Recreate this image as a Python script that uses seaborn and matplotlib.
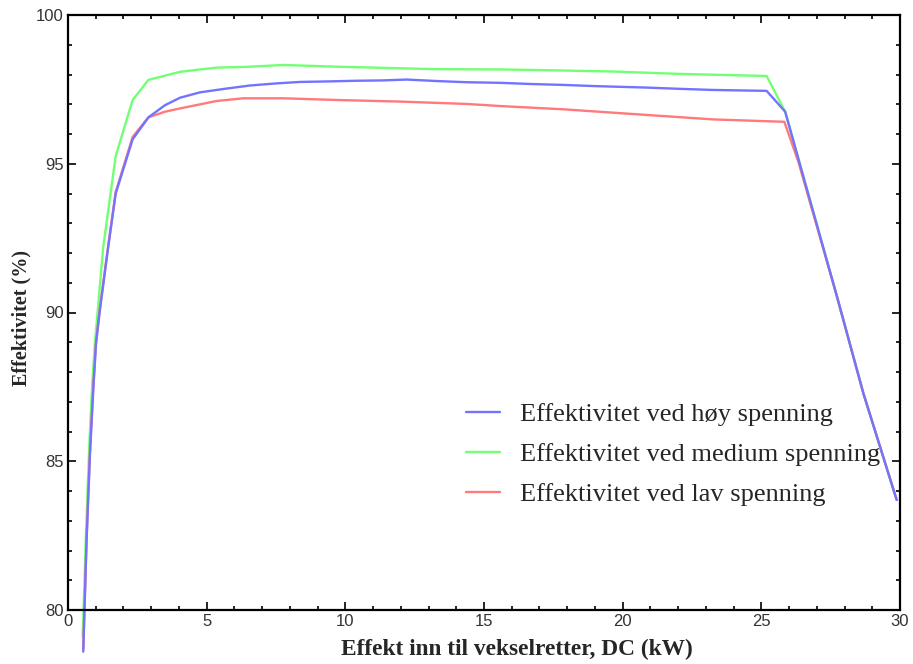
import matplotlib
matplotlib.use("Agg")
import matplotlib.pyplot as plt
import seaborn as sns
import pandas as pd
from matplotlib.ticker import MultipleLocator

# ---- data ----
x_high = [0.55, 0.67, 0.79, 0.91, 1.01, 1.15, 1.45, 1.72, 2.33, 2.90, 3.50, 4.04, 4.76,
          5.66, 6.56, 7.50, 8.37, 9.50, 10.41, 11.30, 12.21, 13.30, 14.38, 15.58, 16.70,
          17.86, 19.00, 20.87, 22.00, 23.27, 25.19, 25.86, 27.72, 28.68, 29.88]
y_high = [78.6, 82.35, 85.2, 87.4, 88.96, 90.08, 92.2, 94.0, 95.82, 96.56, 96.97, 97.22, 97.40,
          97.52, 97.63, 97.70, 97.75, 97.77, 97.79, 97.80, 97.83, 97.78, 97.74, 97.72, 97.68,
          97.65, 97.61, 97.56, 97.52, 97.48, 97.45, 96.75, 90.56, 87.28, 83.70]

x_medium = [0.53, 0.65, 0.77, 0.88, 0.97, 1.27, 1.72, 2.33, 2.90, 4.04, 4.76, 5.36, 6.50,
            7.76, 9.81, 11.50, 13.20, 15.58, 17.50, 19.66, 22.07, 25.19, 25.86, 27.72,
            28.68, 29.88]
y_medium = [79.1, 82.6, 85.6, 87.7, 88.96, 92.2, 95.26, 97.14, 97.82, 98.09, 98.17, 98.23, 98.26,
            98.32, 98.26, 98.22, 98.18, 98.17, 98.14, 98.10, 98.02, 97.95, 96.75, 90.56,
            87.28, 83.70]

x_low = [0.55, 0.67, 0.79, 0.91, 1.01, 1.15, 1.45, 1.72, 2.33, 2.90, 3.50, 4.04, 5.36,
         6.32, 7.76, 9.81, 11.97, 14.38, 15.58, 17.86, 20.87, 23.27, 25.83, 26.34, 27.72,
         28.68, 29.88]
y_low = [78.7, 82.4, 85.3, 87.5, 89.0, 90.15, 92.25, 94.05, 95.9, 96.56, 96.75, 96.86, 97.11,
         97.20, 97.20, 97.14, 97.09, 97.01, 96.94, 96.83, 96.64, 96.49, 96.41, 95.05, 90.56,
         87.28, 83.70]

labels = ["Effektivitet ved høy spenning",
          "Effektivitet ved medium spenning",
          "Effektivitet ved lav spenning"]
colors = ["#7373ff", "#73ff73", "#ff7a7a"]

x_ticks = [0, 5, 10, 15, 20, 25, 30]
y_ticks = [80, 85, 90, 95, 100]

df = pd.concat([
    pd.DataFrame({"x": x_high, "y": y_high, "serie": labels[0]}),
    pd.DataFrame({"x": x_medium, "y": y_medium, "serie": labels[1]}),
    pd.DataFrame({"x": x_low, "y": y_low, "serie": labels[2]}),
], ignore_index=True)

sns.set_style("ticks")
plt.rcParams["font.family"] = ["Liberation Sans", "DejaVu Sans"]

W, H = 913, 664
fig = plt.figure(figsize=(W / 100, H / 100), dpi=100)
L, R, T, B = 68, 900, 15, 610
ax = fig.add_axes([L / W, 1 - B / H, (R - L) / W, (B - T) / H])

for idx in [1, 2, 0]:  # draw green, red, then blue on top
    sub = df[df["serie"] == labels[idx]]
    sns.lineplot(data=sub, x="x", y="y", ax=ax, color=colors[idx], linewidth=1.7,
                 estimator=None, sort=False, clip_on=False, label=labels[idx])

ax.set_xlim(0, 30)
ax.set_ylim(80, 100)
ax.set_xticks(x_ticks)
ax.set_yticks(y_ticks)
ax.set_xticklabels([str(t) for t in x_ticks])
ax.set_yticklabels([str(t) for t in y_ticks])
ax.xaxis.set_minor_locator(MultipleLocator(1))
ax.yaxis.set_minor_locator(MultipleLocator(1))
ax.tick_params(which="both", direction="in", top=True, right=True, color="black", width=1.2)
ax.tick_params(which="major", length=6, labelsize=12, labelcolor="#333333", pad=3)
ax.tick_params(which="minor", length=3)
for s in ax.spines.values():
    s.set_visible(True)
    s.set_color("black")
    s.set_linewidth(1.6)

serif = ["Liberation Serif", "DejaVu Serif"]
ax.set_xlabel("Effekt inn til vekselretter, DC (kW)", family=serif, weight="bold", size=16.8)
ax.set_ylabel("Effektivitet (%)", family=serif, weight="bold", size=14.5)
ax.xaxis.set_label_coords((517 - L) / (R - L), -(639 - B) / (B - T))
ax.yaxis.set_label_coords(-(68 - 31) / (R - L), 1 - (318 - T) / (B - T))

h, l = ax.get_legend_handles_labels()
order = [l.index(lab) for lab in labels]
ax.legend([h[i] for i in order], [l[i] for i in order], loc="upper left",
          bbox_to_anchor=((466 - L) / (R - L), 1 - (403 - T) / (B - T)),
          frameon=False, borderpad=0, borderaxespad=0, handlelength=1.3,
          handletextpad=0.75, labelspacing=0.62,
          prop=dict(family=serif, size=19))

fig.savefig("out.png", dpi=100)
